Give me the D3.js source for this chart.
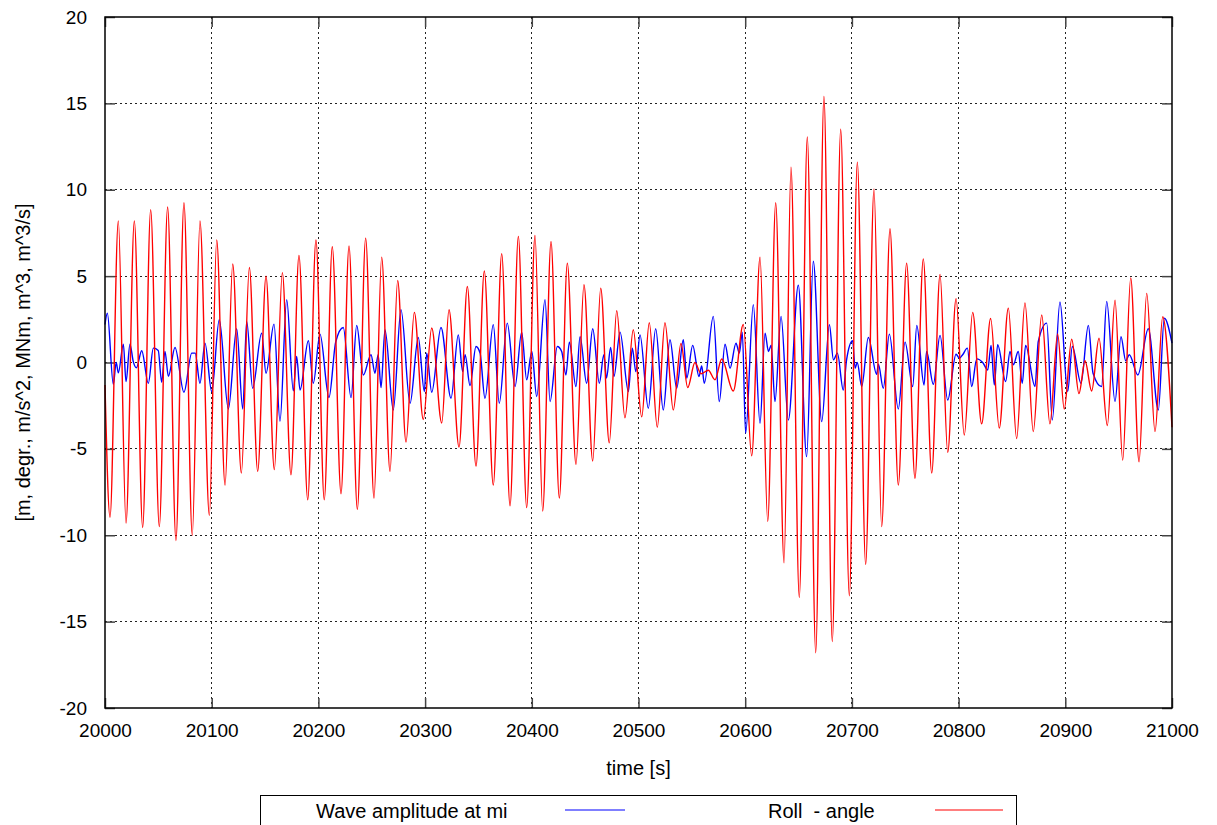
<!DOCTYPE html>
<html>
<head>
<meta charset="utf-8">
<script src="https://cdn.jsdelivr.net/npm/d3@7"></script>
<style>
  html, body { margin: 0; padding: 0; background: #fff; }
  svg { display: block; font-family: "Liberation Sans", Arial, Helvetica, sans-serif; }
</style>
</head>
<body>
<svg id="chart" width="1217" height="825"></svg>
<script>
// ---------- data ----------
const xTicks = [20000, 20100, 20200, 20300, 20400, 20500, 20600, 20700, 20800, 20900, 21000];
const yTicks = [-20, -15, -10, -5, 0, 5, 10, 15, 20];
const xTitle = "time [s]";
const yTitle = "[m, degr., m/s^2, MNm, m^3, m^3/s]";
const seriesNames = ["Wave amplitude at mi", "Roll  - angle"];

// Roll angle: turning points (time, value)
const rollT = [20000, 20004.7, 20012.5, 20019.7, 20027.5, 20035.3, 20042.8, 20050.9, 20058.7, 20066.5, 20074.0,
  20081.8, 20089.0, 20097.8, 20104.7, 20112.5, 20119.7, 20127.8, 20135.3, 20143.1, 20150.9, 20158.7, 20166.2,
  20174.3, 20181.8, 20190.0, 20197.7, 20205.5, 20213.0, 20221.2, 20228.7, 20236.5, 20244.3, 20252.1, 20259.3,
  20267.1, 20274.3, 20282.1, 20289.9, 20298.3, 20306.2, 20315.6, 20322.4, 20331.8, 20339.6, 20347.7, 20355.5,
  20363.9, 20371.8, 20379.6, 20387.4, 20395.2, 20403.0, 20410.2, 20418.0, 20425.8, 20433.3, 20441.4, 20448.9,
  20457.1, 20464.6, 20472.6, 20479.6, 20487.3, 20495.1, 20503.0, 20510.1, 20517.6, 20524.8, 20532.6, 20539.8,
  20546.1, 20552.9, 20558.6, 20565.4, 20571.7, 20578.0, 20588.8, 20598.2, 20606.1, 20613.9, 20621.1, 20628.6,
  20636.4, 20642.9, 20650.7, 20658.2, 20666.1, 20673.8, 20681.6, 20689.5, 20697.6, 20705.1, 20712.9, 20720.7,
  20727.9, 20735.7, 20743.5, 20751.3, 20759.1, 20766.9, 20774.8, 20782.6, 20789.8, 20797.6, 20805.3, 20813.2,
  20821.6, 20830.0, 20838.1, 20846.6, 20854.4, 20862.2, 20870.0, 20877.9, 20885.6, 20892.8, 20899.0, 20906.0,
  20912.8, 20918.5, 20924.7, 20931.6, 20939.4, 20946.6, 20953.8, 20961.3, 20969.1, 20976.3, 20984.1, 20991.3, 21000];
const rollV = [-1.3, -8.96, 8.2, -9.3, 8.2, -9.55, 8.85, -9.5, 9.0, -10.3, 9.25,
  -10.0, 8.2, -8.85, 7.1, -7.1, 5.7, -6.4, 5.5, -6.3, 5.0, -6.2, 5.2,
  -6.5, 6.2, -7.95, 7.1, -7.95, 6.7, -7.6, 6.75, -8.5, 7.2, -7.85, 6.1,
  -6.3, 4.75, -4.6, 2.9, -3.3, 2.0, -3.5, 3.05, -4.9, 4.4, -6.0, 5.3,
  -7.1, 6.3, -8.3, 7.3, -8.4, 7.35, -8.6, 7.0, -7.85, 5.75, -5.9, 4.5,
  -5.7, 4.3, -4.65, 3.0, -3.2, 1.9, -3.15, 2.3, -3.75, 2.3, -2.75, 1.1,
  -1.45, 0.0, -0.65, -0.45, -1.0, 0.2, -1.65, 2.2, -5.4, 6.1, -9.2, 9.25,
  -11.6, 11.3, -13.6, 13.05, -16.8, 15.4, -16.15, 13.5, -13.5, 11.6, -11.7, 10.05,
  -9.5, 7.75, -7.1, 5.75, -6.7, 6.0, -6.4, 5.1, -5.2, 3.7, -4.2, 2.9,
  -3.55, 2.55, -3.8, 3.15, -4.4, 3.45, -4.0, 2.75, -3.55, 1.65, -2.7, 1.35,
  -1.8, 0.1, -1.65, 1.4, -3.65, 3.6, -5.65, 4.9, -5.75, 4.0, -4.0, 2.65, -3.75];

// Wave amplitude: turning points (time, value)
const waveT = [20000, 20002.2, 20007.8, 20010.5, 20012.5, 20017.2, 20019.7, 20023.4, 20026.5, 20029.5, 20034.4,
  20040.6, 20045.3, 20049.9, 20053.1, 20056.2, 20059.4, 20065.6, 20074.0, 20081.3, 20084.5, 20089.0, 20093.7,
  20100.0, 20107.1, 20115.6, 20123.4, 20129.1, 20132.8, 20138.4, 20146.8, 20150.9, 20158.4, 20164.0, 20170.3,
  20176.5, 20179.6, 20182.8, 20190.6, 20195.2, 20201.5, 20209.9, 20216.2, 20223.3, 20230.6, 20235.9, 20242.1,
  20249.3, 20253.0, 20256.0, 20258.7, 20262.4, 20270.2, 20277.4, 20285.9, 20293.6, 20299.3, 20301.5, 20306.2,
  20314.9, 20324.3, 20331.1, 20335.2, 20337.5, 20342.1, 20347.7, 20351.5, 20356.1, 20363.9, 20369.5, 20377.0,
  20384.3, 20390.5, 20395.2, 20400.0, 20404.6, 20412.4, 20417.1, 20423.9, 20428.0, 20432.0, 20435.2, 20441.4,
  20445.2, 20451.4, 20457.1, 20463.3, 20467.5, 20470.0, 20473.9, 20477.0, 20482.7, 20490.5, 20494.2, 20497.5,
  20501.4, 20509.2, 20516.1, 20523.2, 20529.5, 20535.8, 20542.0, 20545.2, 20550.8, 20556.7, 20559.2, 20561.7,
  20570.1, 20575.7, 20581.1, 20585.8, 20591.4, 20594.5, 20597.3, 20600.4, 20607.6, 20613.9, 20618.6, 20621.8,
  20624.3, 20627.9, 20633.6, 20640.4, 20649.8, 20657.6, 20663.8, 20671.7, 20678.9, 20682.7, 20686.4, 20691.9,
  20695.0, 20700.7, 20703.0, 20705.0, 20709.2, 20715.4, 20723.2, 20724.8, 20729.4, 20735.1, 20743.5, 20749.8,
  20757.0, 20760.8, 20767.6, 20770.0, 20776.3, 20782.6, 20789.8, 20797.6, 20800.7, 20803.8, 20808.2, 20812.3,
  20817.0, 20822.6, 20827.3, 20830.4, 20833.5, 20836.6, 20844.1, 20848.2, 20851.3, 20855.9, 20859.7, 20862.8,
  20871.6, 20874.7, 20882.6, 20887.8, 20895.0, 20902.2, 20906.6, 20914.7, 20921.6, 20926.0, 20934.0, 20938.8,
  20946.6, 20952.2, 20956.6, 20960.0, 20968.0, 20977.8, 20987.2, 20992.8, 21000];
const waveV = [2.2, 2.86, -1.26, 0.0, -0.6, 1.06, -1.1, 1.06, 0.05, -0.3, 0.68,
  -1.2, 0.83, 0.7, -1.14, 0.64, -0.8, 0.87, -1.72, 0.54, 0.54, -1.2, 1.12,
  -1.68, 2.48, -2.69, 1.95, -2.69, 2.38, -1.49, 1.7, -0.62, 2.22, -3.4, 3.64,
  -1.64, 0.35, -1.59, 1.26, -1.2, 1.64, -2.03, 1.18, 2.03, -2.03, 2.15, -0.72,
  0.45, -0.62, 0.45, -1.45, 1.9, -2.75, 3.06, -2.36, 1.45, -1.68, 0.54, -1.72,
  2.03, -2.07, 1.6, -0.52, 0.45, -1.33, 0.93, 0.55, -2.07, 2.19, -2.36, 2.28,
  -1.39, 1.76, -1.0, 0.64, -1.97, 3.64, -2.26, 0.93, 0.64, -0.72, 1.18, -1.39,
  1.5, -1.2, 1.95, -1.2, 0.45, -0.9, 0.87, -0.81, 1.76, -1.68, 0.83, -0.52,
  1.6, -2.65, 1.95, -2.75, 1.32, -1.49, 1.32, -0.9, 0.99, -0.81, -0.2, -1.2,
  2.67, -2.26, 1.06, -0.33, 1.12, 0.54, 1.76, -4.1, 3.35, -3.52, 1.7, 0.64,
  1.0, -2.26, 2.67, -3.33, 4.47, -5.45, 5.86, -3.42, 2.19, 0.15, 0.54, -1.59,
  0.15, 1.26, -0.33, 0.0, -1.39, 1.45, -0.68, -0.1, -1.49, 1.64, -2.69, 1.18,
  -1.39, 2.15, -1.3, 0.64, -1.26, 1.57, -2.17, 0.48, 0.25, 0.45, 0.83, -1.39,
  0.21, 0.0, -0.43, 0.99, -1.3, 1.03, -1.1, 0.64, -0.14, 0.64, -1.2, 0.99,
  -1.39, 1.22, 2.28, -3.33, 3.5, -1.68, 0.93, -1.2, 2.15, -0.62, -1.39, 3.54,
  -2.26, 1.5, 0.1, 0.45, -0.72, 1.95, -2.75, 2.57, 1.12];

// ---------- drawing ----------
const svg = d3.select("#chart");
const m = { left: 105, right: 1172, top: 17, bottom: 708 };
const x = d3.scaleLinear().domain([20000, 21000]).range([m.left, m.right]);
const y = d3.scaleLinear().domain([-20, 20]).range([m.bottom, m.top]);

const fontSize = 19;
const gridColor = "#222";
const fmt = d => String(d);   // plain hyphen-minus like the reference

// grid
const grid = svg.append("g");
grid.selectAll("line.gx").data(xTicks.slice(1, -1)).join("line")
  .attr("x1", d => x(d)).attr("x2", d => x(d))
  .attr("y1", m.top).attr("y2", m.bottom)
  .attr("stroke", gridColor).attr("stroke-width", 1).attr("stroke-dasharray", "2,3")
  .attr("shape-rendering", "crispEdges");
grid.selectAll("line.gy").data(yTicks.slice(1, -1)).join("line")
  .attr("x1", m.left).attr("x2", m.right)
  .attr("y1", d => y(d)).attr("y2", d => y(d))
  .attr("stroke", gridColor).attr("stroke-width", 1).attr("stroke-dasharray", "2,3")
  .attr("shape-rendering", "crispEdges");

// axes (ticks inward on all sides)
const tickLen = 10;
const axB = svg.append("g").attr("transform", `translate(0,${m.bottom})`)
  .call(d3.axisBottom(x).tickValues(xTicks).tickFormat(fmt).tickSizeInner(-tickLen).tickSizeOuter(0).tickPadding(tickLen + 6));
const axT = svg.append("g").attr("transform", `translate(0,${m.top})`)
  .call(d3.axisTop(x).tickValues(xTicks).tickFormat("").tickSizeInner(-tickLen).tickSizeOuter(0));
const axL = svg.append("g").attr("transform", `translate(${m.left},0)`)
  .call(d3.axisLeft(y).tickValues(yTicks).tickFormat(fmt).tickSizeInner(-tickLen).tickSizeOuter(0).tickPadding(tickLen + 8));
const axR = svg.append("g").attr("transform", `translate(${m.right},0)`)
  .call(d3.axisRight(y).tickValues(yTicks).tickFormat("").tickSizeInner(-tickLen).tickSizeOuter(0));
[axB, axT, axL, axR].forEach(a => {
  a.select(".domain").remove();
  a.selectAll(".tick line").attr("stroke", "#444").attr("stroke-width", 1.5);
  a.selectAll("text").attr("font-size", fontSize).attr("fill", "#000")
    .attr("font-family", '"Liberation Sans", Arial, sans-serif');
});

// series
const lineGen = d3.line().x(d => x(d[0])).y(d => y(d[1])).curve(d3.curveMonotoneX);
const waveData = waveT.map((t, i) => [t, waveV[i]]);
const rollData = rollT.map((t, i) => [t, rollV[i]]);
const plot = svg.append("g");
plot.append("path").datum(waveData).attr("d", lineGen)
  .attr("fill", "none").attr("stroke", "#0000ff").attr("stroke-width", 1.4);
plot.append("path").datum(rollData).attr("d", lineGen)
  .attr("fill", "none").attr("stroke", "#ff0000").attr("stroke-width", 1.4);

// frame
svg.append("rect").attr("x", m.left).attr("y", m.top)
  .attr("width", m.right - m.left).attr("height", m.bottom - m.top)
  .attr("fill", "none").attr("stroke", "#000").attr("stroke-width", 1.5);

// titles
svg.append("text").attr("x", (m.left + m.right) / 2).attr("y", 775)
  .attr("text-anchor", "middle").attr("font-size", fontSize + 1).text(xTitle);
svg.append("text").attr("transform", `translate(30,${(m.top + m.bottom) / 2}) rotate(-90)`)
  .attr("text-anchor", "middle").attr("font-size", fontSize + 1).text(yTitle);

// legend
const lg = svg.append("g");
lg.append("rect").attr("x", 260.5).attr("y", 795.5).attr("width", 756).attr("height", 50)
  .attr("fill", "#fff").attr("stroke", "#000").attr("stroke-width", 1);
const legendItems = [
  { name: seriesNames[0], color: "#0000ff", tx: 316, lx1: 565, lx2: 625 },
  { name: seriesNames[1], color: "#ff0000", tx: 768, lx1: 935, lx2: 1003 }
];
legendItems.forEach(it => {
  lg.append("text").attr("x", it.tx).attr("y", 818).attr("font-size", fontSize + 1)
    .attr("xml:space", "preserve").style("white-space", "pre").text(it.name);
  lg.append("line").attr("x1", it.lx1).attr("x2", it.lx2).attr("y1", 810).attr("y2", 810)
    .attr("stroke", it.color).attr("stroke-width", 1.2);
});
</script>
</body>
</html>
